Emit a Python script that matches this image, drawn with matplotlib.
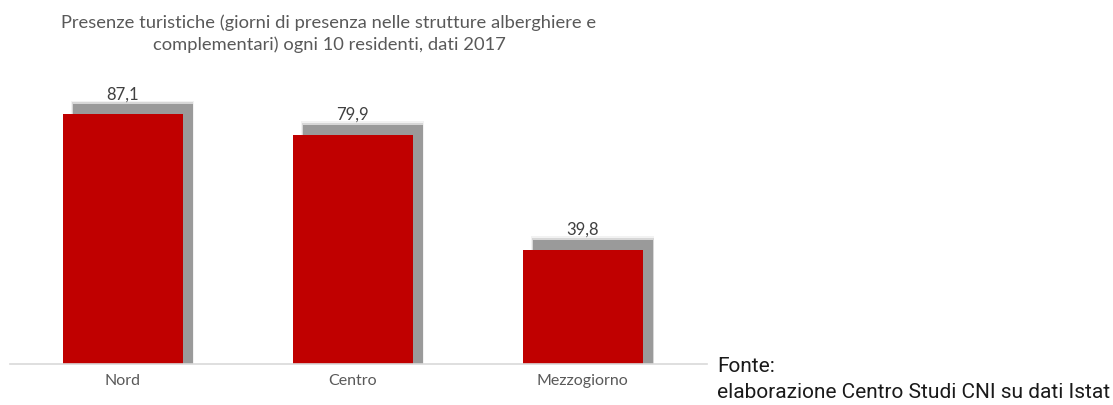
import matplotlib.pyplot as plt
import numpy as np

categories = ["Nord", "Centro", "Mezzogiorno"]
values = [87.1, 79.9, 39.8]
labels = ["87,1", "79,9", "39,8"]

title = ("Presenze turistiche (giorni di presenza nelle strutture alberghiere e\n"
         "complementari) ogni 10 residenti, dati 2017")

W, H = 1113, 405
fig = plt.figure(figsize=(W / 100, H / 100), dpi=100)

# axes placed in pixel coords
left, right, bottom, top = 10, 707, 364, 77
ax = fig.add_axes([left / W, (H - bottom) / H, (right - left) / W, (bottom - top) / H])

x = np.arange(len(categories))
width = 0.52
ax.set_xlim(-0.49, 2.54)
ax.set_ylim(0, 100)

# soft shadow: offset up/right, a few translucent layers for blur
dx = 10 / 230
dy = 10 / 2.87
for gx, gy, a in [(0.016, 1.2, 0.12), (0.008, 0.6, 0.3), (0.0, 0.0, 1.0)]:
    ax.bar(x + dx, np.array(values) + dy + gy, width=width + gx,
           color="#9a9a9a", alpha=a, linewidth=0, zorder=1)

ax.bar(x, values, width=width, color="#c00000", linewidth=0, zorder=3)

for xi, v, lab in zip(x, values, labels):
    ax.text(xi, v + dy + 0.6, lab, ha="center", va="bottom", fontsize=12,
            color="#404040", family="Lato", zorder=4)

ax.set_xticks(x)
ax.set_xticklabels(categories, fontsize=11.5, color="#595959", family="Lato")
ax.tick_params(axis="x", length=0, pad=7)
ax.set_yticks([])
for s in ["top", "right", "left"]:
    ax.spines[s].set_visible(False)
ax.spines["bottom"].set_color("#d9d9d9")
ax.spines["bottom"].set_linewidth(1.2)
ax.spines["bottom"].set_zorder(5)

fig.text(329 / W, 1 - 34 / H, title, ha="center", va="center", fontsize=13.2,
         color="#595959", family="Lato", linespacing=1.4)

fig.text(717 / W, 1 - 366 / H, "Fonte:", ha="left", va="center", fontsize=15,
         color="#1a1a1a", family="Roboto")
fig.text(717 / W, 1 - 392 / H, "elaborazione Centro Studi CNI su dati Istat",
         ha="left", va="center", fontsize=15, color="#1a1a1a", family="Roboto")

fig.savefig("out.png", dpi=100)
